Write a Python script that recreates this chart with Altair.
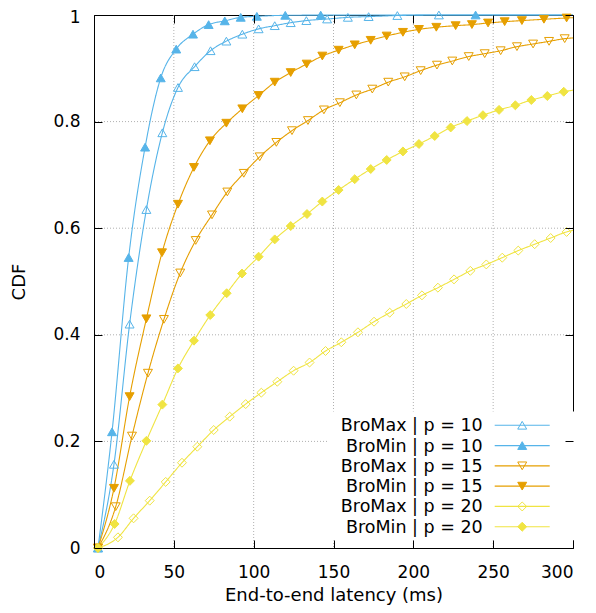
import altair as alt
import pandas as pd

series = ["BroMax | p = 10", "BroMin | p = 10", "BroMax | p = 15",
          "BroMin | p = 15", "BroMax | p = 20", "BroMin | p = 20"]
line_colors = ["#56b4e9", "#56b4e9", "#e69f00", "#e69f00", "#f0e442", "#f0e442"]
marker_fills = ["transparent", "#56b4e9", "transparent", "#e69f00", "transparent", "#f0e442"]
marker_shapes = ["triangle-up", "triangle-up", "triangle-down", "triangle-down", "diamond", "diamond"]

bromax10_x = [2.5, 12.5, 22.3, 32.8, 42.8, 52.6, 63, 73, 82.9, 92.9, 103.1, 113.2, 123.2, 133, 146, 159, 172, 190, 216]
bromax10_y = [0, 0.157, 0.42, 0.635, 0.779, 0.864, 0.903, 0.933, 0.951, 0.964, 0.974, 0.980, 0.9856, 0.9895, 0.9925, 0.9956, 0.997, 0.999, 1.0]

bromin10_x = [2.5, 11.3, 21.7, 32, 41.8, 51.5, 62, 71.8, 81.9, 91.9, 102, 119.8, 142, 239]
bromin10_y = [0, 0.218, 0.545, 0.752, 0.882, 0.936, 0.964, 0.982, 0.989, 0.9956, 0.9975, 0.9994, 0.9998, 1.0]

bromax15_x = [2.5, 13.6, 23.8, 33.8, 43.8, 54, 63.7, 73.9, 83.5, 93.8, 103.8, 114.2, 124, 134, 144, 154, 164.3, 174.3,
              184.3, 194.6, 204.6, 214.8, 224.4, 234.7, 244.7, 254.7, 264.9, 275, 285, 294.8]
bromax15_y = [0, 0.0775, 0.21, 0.328, 0.429, 0.516, 0.577, 0.625, 0.668, 0.703, 0.734, 0.761, 0.783, 0.802, 0.822,
              0.8355, 0.85, 0.861, 0.874, 0.884, 0.8956, 0.906, 0.9137, 0.922, 0.9275, 0.933, 0.9406, 0.9456, 0.9506, 0.9556]

bromin15_x = [2.5, 12.5, 22.3, 32.8, 42.6, 52.6, 62.6, 72.6, 82.9, 92.9, 103.1, 113.2, 123.2, 133.2, 143, 153.2, 163.3,
              173.3, 183.3, 193.5, 203.5, 214.4, 226.5, 236.7, 246.8, 257.2, 268, 281.8, 296]
bromin15_y = [0, 0.112, 0.284, 0.43, 0.554, 0.645, 0.714, 0.764, 0.797, 0.824, 0.849, 0.874, 0.892, 0.908, 0.923, 0.934,
              0.944, 0.9525, 0.9606, 0.9675, 0.973, 0.977, 0.980, 0.982, 0.985, 0.9875, 0.9895, 0.992, 0.9944]

bromax20_x = [2.5, 15, 24.8, 34.9, 44.9, 55.1, 64.7, 75, 85, 95, 104.8, 114.8, 125, 135, 145, 154.9, 165.3, 175.4, 185.2,
              195.6, 205.4, 215.4, 225.5, 235.7, 245.7, 255.7, 265.7, 276, 286, 296]
bromax20_y = [0, 0.02, 0.0557, 0.0888, 0.124, 0.16, 0.19, 0.2214, 0.2464, 0.27, 0.2914, 0.312, 0.3326, 0.348, 0.3696,
              0.386, 0.4047, 0.4246, 0.4415, 0.4578, 0.474, 0.4884, 0.504, 0.520, 0.532, 0.5447, 0.558, 0.570, 0.5816, 0.593]

bromin20_x = [2.5, 12.9, 22.5, 32.8, 42.8, 52.6, 62.6, 72.8, 83.1, 92.7, 103.1, 113.2, 123.2, 133.4, 143, 153.2, 163.3,
              173.3, 183.3, 193.5, 203.5, 213.4, 223.4, 233.6, 243.6, 253.7, 263.9, 273.9, 283.9, 294.2]
bromin20_y = [0, 0.045, 0.126, 0.201, 0.269, 0.337, 0.389, 0.437, 0.478, 0.515, 0.5466, 0.579, 0.604, 0.6266, 0.65,
              0.6717, 0.692, 0.711, 0.728, 0.744, 0.758, 0.773, 0.789, 0.801, 0.812, 0.822, 0.8306, 0.8405, 0.848, 0.856]

# value of each curve where it meets the right border (x = 300)
end_x = 300
end_y = [1.0, 1.0, 0.957, 0.995, 0.596, 0.859]

x_ticks = [0, 50, 100, 150, 200, 250, 300]
y_ticks = [0, 0.2, 0.4, 0.6, 0.8, 1.0]
grid_x = [50, 100, 150, 200, 250]
grid_y = [0.2, 0.4, 0.6, 0.8]

xs = [bromax10_x, bromin10_x, bromax15_x, bromin15_x, bromax20_x, bromin20_x]
ys = [bromax10_y, bromin10_y, bromax15_y, bromin15_y, bromax20_y, bromin20_y]

rows = []
for name, sx, sy, ey in zip(series, xs, ys, end_y):
    for a, b in zip(sx, sy):
        rows.append({"series": name, "name": name, "label": name, "x": a, "y": b, "mk": True})
    rows.append({"series": name, "name": name, "label": name, "x": end_x, "y": ey, "mk": False})
df = pd.DataFrame(rows)

FONT = "DejaVu Sans"
W, H = 479, 533

xscale = alt.Scale(domain=[0, 300], nice=False, zero=False)
yscale = alt.Scale(domain=[0, 1], nice=False, zero=False)

gx = alt.Chart(pd.DataFrame({"v": grid_x})).mark_rule(
    color="#b0b0b0", strokeDash=[1, 2], strokeWidth=1
).encode(x=alt.X("v:Q", scale=xscale, axis=None))

gy = alt.Chart(pd.DataFrame({"v": grid_y})).mark_rule(
    color="#b0b0b0", strokeDash=[1, 2], strokeWidth=1
).encode(y=alt.Y("v:Q", scale=yscale, axis=None))

leg_x, leg_y = 234, 396.5
sym_off = 180.45
row_pad = 1.3

# legend 1: white box + line samples (labels hidden)
line_legend = alt.Legend(
    orient="none", legendX=leg_x, legendY=leg_y, padding=5,
    symbolType="M-5,0H5M8.2,0", symbolSize=121, symbolStrokeWidth=1.2,
    symbolOffset=sym_off, labelOffset=0, labelExpr="'.'", labelOpacity=0,
    labelFont=FONT, labelFontSize=17.5,
    rowPadding=row_pad, fillColor="white",
)
# legend 2: point markers on top of the line samples (labels hidden)
marker_legend = alt.Legend(
    orient="none", legendX=leg_x, legendY=leg_y, padding=5,
    symbolSize=80, symbolStrokeWidth=1,
    symbolOffset=sym_off, labelOffset=0, labelExpr="'.'", labelOpacity=0,
    labelFont=FONT, labelFontSize=17.5,
    rowPadding=row_pad,
)
# legend 3: the texts, right-aligned to the left of the samples
text_legend = alt.Legend(
    orient="none", legendX=366.2, legendY=leg_y + 1, padding=5,
    symbolSize=4, symbolOpacity=0, symbolOffset=0,
    labelOffset=0, labelAlign="right",
    labelFont=FONT, labelFontSize=17.5, labelColor="black", labelLimit=400,
    rowPadding=row_pad,
)

lines = alt.Chart(df).mark_line(strokeWidth=1.1, interpolate="monotone").encode(
    x=alt.X("x:Q", scale=xscale, title="End-to-end latency (ms)",
            axis=alt.Axis(values=x_ticks, grid=False, domain=False, tickSize=8, offset=-8,
                          tickColor="black", labelPadding=16, titlePadding=6, zindex=3)),
    y=alt.Y("y:Q", scale=yscale, title="CDF",
            axis=alt.Axis(values=y_ticks, format="~g", grid=False, domain=False, tickSize=8, offset=-8,
                          tickColor="black", labelPadding=14, titlePadding=24, zindex=3,
                          labelOffset={"condition": {"test": "datum.value === 1", "value": 2}, "value": 0})),
    color=alt.Color("name:N", sort=series, scale=alt.Scale(range=line_colors), title=None,
                    legend=line_legend),
    strokeDash=alt.StrokeDash("label:N", sort=series, scale=alt.Scale(range=[[1, 0]] * 6), title=None,
                              legend=text_legend),
)

points = alt.Chart(df).transform_filter("datum.mk").mark_point(
    filled=True, opacity=1, size=80, strokeWidth=1
).encode(
    x=alt.X("x:Q", scale=xscale, title=None,
            axis=alt.Axis(orient="top", values=x_ticks, labels=False, grid=False, domain=False,
                          tickSize=8, offset=-8, tickColor="black", zindex=3)),
    y=alt.Y("y:Q", scale=yscale, title=None,
            axis=alt.Axis(orient="right", values=y_ticks, labels=False, grid=False, domain=False,
                          tickSize=8, offset=-8, tickColor="black", zindex=3)),
    stroke=alt.Stroke("series:N", scale=alt.Scale(domain=series, range=line_colors), title=None,
                      legend=marker_legend),
    fill=alt.Fill("series:N", scale=alt.Scale(domain=series, range=marker_fills), title=None,
                  legend=marker_legend),
    shape=alt.Shape("series:N", scale=alt.Scale(domain=series, range=marker_shapes), title=None,
                    legend=marker_legend),
)

chart = alt.layer(gx, gy, lines, points).resolve_axis(
    x="independent", y="independent"
).properties(
    width=W, height=H,
    autosize=alt.AutoSizeParams(type="none"),
    padding={"left": 86, "top": 7, "right": 15, "bottom": 57},
).configure_view(
    stroke="black", strokeWidth=1
).configure_axis(
    labelFont=FONT, labelFontSize=17, labelColor="black",
    titleFont=FONT, titleFontSize=18, titleFontWeight="normal", titleColor="black",
)

chart.save("out.html", embed_options={"renderer": "svg", "actions": False})
